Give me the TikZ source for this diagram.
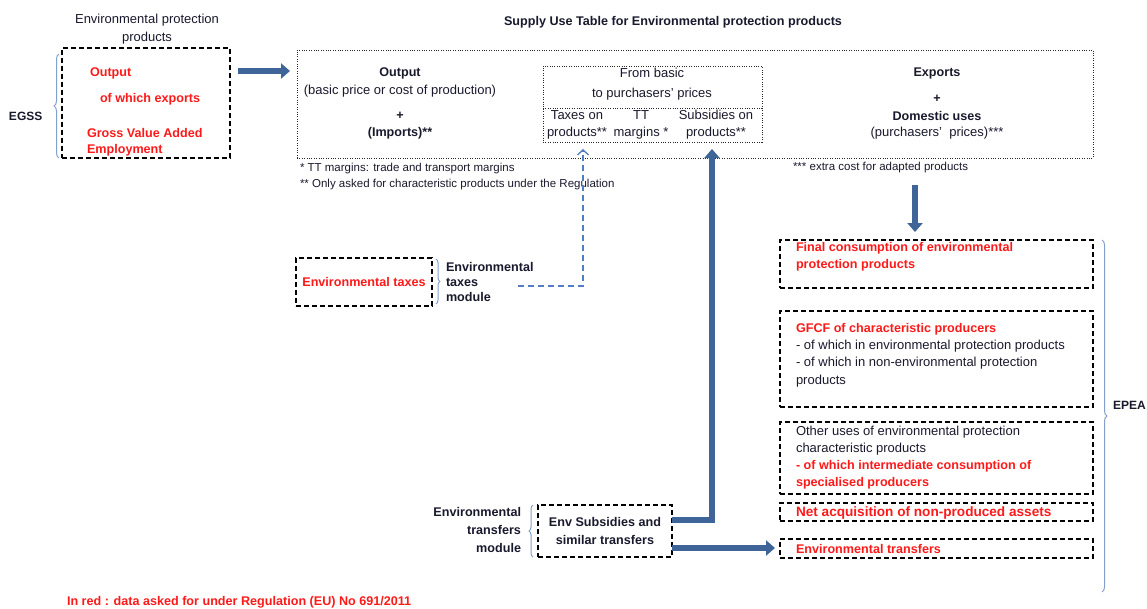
\documentclass[tikz,border=0pt]{standalone}
\usepackage{fontspec}
\setmainfont{Liberation Sans}
\usetikzlibrary{arrows.meta,decorations.pathreplacing}
\definecolor{redtxt}{RGB}{255,25,25}
\definecolor{navy}{RGB}{25,25,45}
\definecolor{arrowblue}{RGB}{62,100,152}
\definecolor{bracecol}{RGB}{130,160,205}
\definecolor{dashblue}{RGB}{80,125,195}
\begin{document}
\begin{tikzpicture}[x=1pt,y=-1pt,
  every node/.style={inner sep=0pt, outer sep=0pt, text=navy},
  dbox/.style={draw=black, line width=1.5pt, dash pattern=on 5pt off 3pt},
  dotbox/.style={draw=black!85, line width=0.6pt, dash pattern=on 1pt off 1.4pt},
  rtxt/.style={text=redtxt, font=\fontsize{12.6}{17}\selectfont\bfseries},
  btxt/.style={font=\fontsize{13}{17}\selectfont},
  bbold/.style={font=\fontsize{12.6}{17}\selectfont\bfseries},
  foot/.style={font=\fontsize{11.5}{13}\selectfont},
  fat/.style={draw=arrowblue, line width=6pt, -{Triangle[length=9pt,width=15pt]}},
  bracestyle/.style={draw=bracecol, line width=1pt, decorate, decoration={brace, amplitude=5pt}}
]
\useasboundingbox (0,0) rectangle (1147,608);

% ---- EGSS part ----
\node[btxt, align=center, font=\fontsize{13}{18}\selectfont] (eptitle) at (147,29) {Environmental protection\\products};
\node[dbox, minimum width=168pt, minimum height=110pt, anchor=north west] (egss) at (62,48) {};
\node[rtxt, anchor=west] (out1) at (90,73) {Output};
\node[rtxt, anchor=west] (owe) at (100,99) {of which exports};
\node[rtxt, anchor=west, align=left, font=\fontsize{12.6}{16}\selectfont\bfseries] (gva) at (87,142) {Gross Value Added\\Employment};
\draw[bracestyle] (59,158) -- (59,54);
\node[bbold, anchor=west, font=\fontsize{12}{14}\selectfont\bfseries] (egsslbl) at (9,116) {EGSS};

% ---- Supply use table ----
\node[bbold] (suttitle) at (673,22) {Supply Use Table for Environmental protection products};
\node[dotbox, minimum width=796pt, minimum height=108pt, anchor=north west] (sut) at (297,50) {};
\coordinate (a1s) at (238,71);
\draw[fat, shorten >=7pt] (a1s) -- (sut.west |- a1s);

\node[bbold] (outp) at (400,73) {Output};
\node[btxt] (bp) at (400,91) {(basic price or cost of production)};
\node[bbold] (plus1) at (400,116) {+};
\node[bbold] (imp) at (400,133) {(Imports)**};

\node[dotbox, minimum width=219pt, minimum height=76pt, anchor=north west] (bp2p) at (543,66) {};
\draw[dotbox] (bp2p.west |- 0,108) -- (bp2p.east |- 0,108);
\node[btxt] (fb) at (652,73) {From basic};
\node[btxt] (tpp) at (652,94) {to purchasers' prices};
\node[btxt, align=center] (tax) at (577,125) {Taxes on\\products**};
\node[btxt, align=center] (tt) at (641,125) {TT\\margins *};
\node[btxt, align=center] (subs) at (716,125) {Subsidies on\\products**};

\node[bbold] (exp) at (937,73) {Exports};
\node[bbold] (plus2) at (937,99) {+};
\node[bbold] (dom) at (937,116) {Domestic uses};
\node[btxt] (pp) at (937,133) {(purchasers'\ \ prices)***};

\node[foot, anchor=west] (fn1) at (300,169) {* TT margins: trade and transport margins};
\node[foot, anchor=west] (fn2) at (300,185) {** Only asked for characteristic products under the Regulation};
\node[foot, anchor=west] (fn3) at (793,168) {*** extra cost for adapted products};

% ---- EPEA boxes ----
\node[dbox, minimum width=313pt, minimum height=48pt, anchor=north west] (fc) at (780,240) {};
\node[rtxt, anchor=west, align=left] (fctxt) at (796,256.5) {Final consumption of environmental\\protection products};
\node[dbox, minimum width=313pt, minimum height=96pt, anchor=north west] (gfcf) at (780,311) {};
\node[btxt, anchor=west, align=left, font=\fontsize{13}{17.3}\selectfont] (gfcftxt) at (796,355) {{\color{redtxt}\fontsize{12.6}{17.3}\selectfont\bfseries GFCF of characteristic producers}\\- of which in environmental protection products\\- of which in non-environmental protection\\products};
\node[dbox, minimum width=313pt, minimum height=72pt, anchor=north west] (oth) at (780,422) {};
\node[btxt, anchor=west, align=left, font=\fontsize{13}{17}\selectfont] (othtxt) at (796,457.5) {Other uses of environmental protection\\characteristic products\\{\color{redtxt}\fontsize{12.6}{17}\selectfont\bfseries - of which intermediate consumption of}\\{\color{redtxt}\fontsize{12.6}{17}\selectfont\bfseries specialised producers}};
\node[dbox, minimum width=313pt, minimum height=18pt, anchor=north west] (nap) at (780,503) {};
\node[rtxt, anchor=west, font=\fontsize{13.6}{15}\selectfont\bfseries] (naptxt) at (796,512.5) {Net acquisition of non-produced assets};
\node[dbox, minimum width=313pt, minimum height=19pt, anchor=north west] (etr) at (780,539) {};
\node[rtxt, anchor=west] (etrtxt) at (796,549) {Environmental transfers};
\draw[bracestyle] (1102,240) -- (1102,592);
\node[bbold, anchor=west, font=\fontsize{12}{14}\selectfont\bfseries] (epea) at (1113,405) {EPEA};

\coordinate (d1) at (915,185);
\draw[fat, shorten >=8pt] (d1) -- (d1 |- fc.north);

% ---- Environmental taxes ----
\node[dbox, minimum width=136pt, minimum height=48pt, anchor=north west, rtxt] (envtax) at (296,258) {Environmental taxes};
\draw[bracestyle, decoration={brace, amplitude=4pt}] (436,259) -- (436,304);
\node[bbold, anchor=west, align=left, font=\fontsize{12.6}{15}\selectfont\bfseries] (etmod) at (446,282) {Environmental\\taxes\\module};
\coordinate (dstart) at (518,286);
\coordinate (tipA) at (583,149);
\draw[dashblue, line width=1.3pt, dash pattern=on 6pt off 4pt, -{Straight Barb[length=5pt,width=11pt]}] (dstart) -| (tipA);

% ---- Environmental transfers ----
\node[bbold, anchor=east, align=right, font=\fontsize{12.6}{18}\selectfont\bfseries] (etrmod) at (521,530) {Environmental\\transfers\\module};
\draw[bracestyle, decoration={brace, amplitude=4pt}] (533,557) -- (533,505);
\node[dbox, minimum width=134pt, minimum height=52pt, anchor=north west, align=center, font=\fontsize{12.6}{18}\selectfont\bfseries] (envsub) at (538,505) {Env Subsidies and\\similar transfers};
\coordinate (subtip) at (712,149);
\draw[fat] ([yshift=11pt]envsub.east) -| (subtip);
\draw[fat, shorten >=5pt] ([yshift=-17pt]envsub.east) -- ([yshift=-17pt]envsub.east -| etr.west);

% ---- note ----
\node[rtxt, anchor=west, font=\fontsize{12.6}{14}\selectfont\bfseries] (note) at (67,602) {In red : data asked for under Regulation (EU) No 691/2011};
\end{tikzpicture}
\end{document}
